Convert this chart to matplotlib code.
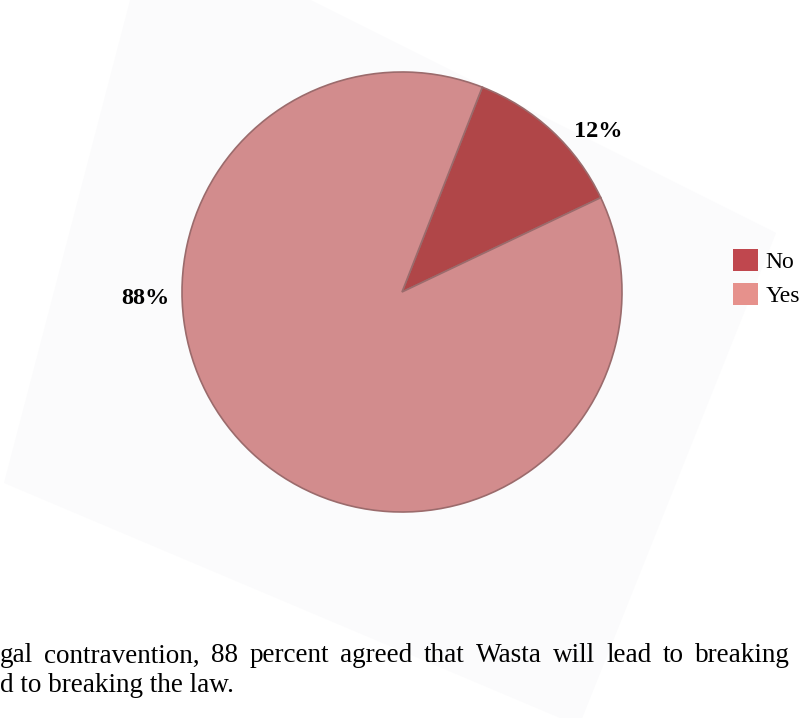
import matplotlib.pyplot as plt
from matplotlib.patches import Patch, Polygon

# survey answers
labels = ["No", "Yes"]
shares = [12, 88]
pie_colors = ["#b04648", "#d28c8d"]
legend_colors = ["#c0474e", "#e6918c"]

caption = ["gal contravention, 88 percent agreed that Wasta will lead to breaking",
           "d to breaking the law."]

plt.rcParams['font.family'] = ['Liberation Serif', 'DejaVu Serif']

W, H = 803, 718
fig = plt.figure(figsize=(W / 100, H / 100), dpi=100)

# faint tilted page behind the chart (scanned look)
page = [(151, -80), (776, 233), (579, 726), (4, 483)]
fig.patches.append(Polygon([(x / W, 1 - y / H) for x, y in page], closed=True,
                           transform=fig.transFigure, facecolor="#fbfbfc",
                           edgecolor="none", zorder=-5))

# pie: centre ~ (402, 292) px, radius ~ 220 px
cx, cy, r = 402, 292, 220
ax = fig.add_axes([(cx - r) / W, (H - cy - r) / H, 2 * r / W, 2 * r / H])
ax.set_zorder(1)
ax.patch.set_visible(False)
wedges, _ = ax.pie(shares, colors=pie_colors, startangle=68.6, counterclock=False,
                   wedgeprops=dict(edgecolor="#9b6b6c", linewidth=1.2, clip_on=False))
ax.set_xlim(-1.0, 1.0)
ax.set_ylim(-1.0, 1.0)
ax.set_aspect("equal")
ax.axis("off")

ax.text(0.89, 0.73, f"{shares[0]}%", fontsize=17.5, fontweight="bold", ha="center", va="center")
ax.text(-1.165, -0.03, f"{shares[1]}%", fontsize=17.5, fontweight="bold", ha="center", va="center")

handles = [Patch(facecolor=c, edgecolor="none") for c in legend_colors]
leg = fig.legend(handles, labels, loc="upper left", bbox_to_anchor=(724 / W, 1 - 240 / H),
                 frameon=False, fontsize=17, handlelength=1.05, handleheight=1.05,
                 handletextpad=0.3, labelspacing=0.4, borderaxespad=0)
leg.set_zorder(2)

# caption: first line justified to ~790 px, second line left aligned
renderer = fig.canvas.get_renderer()
fs = 19.5
words = caption[0].split()
right_edge = 790
objs, widths = [], []
for w in words:
    t = fig.text(0, 1 - 656 / H, w, fontsize=fs, ha="left", va="center", zorder=2)
    objs.append(t)
    widths.append(t.get_window_extent(renderer).width)
gap = (right_edge - sum(widths)) / (len(words) - 1)
x = 0.0
for t, wd in zip(objs, widths):
    t.set_x(x / W)
    x += wd + gap

fig.text(0.0, 1 - 686 / H, caption[1], fontsize=fs, ha="left", va="center", zorder=2)

fig.savefig("out.png", dpi=100)
